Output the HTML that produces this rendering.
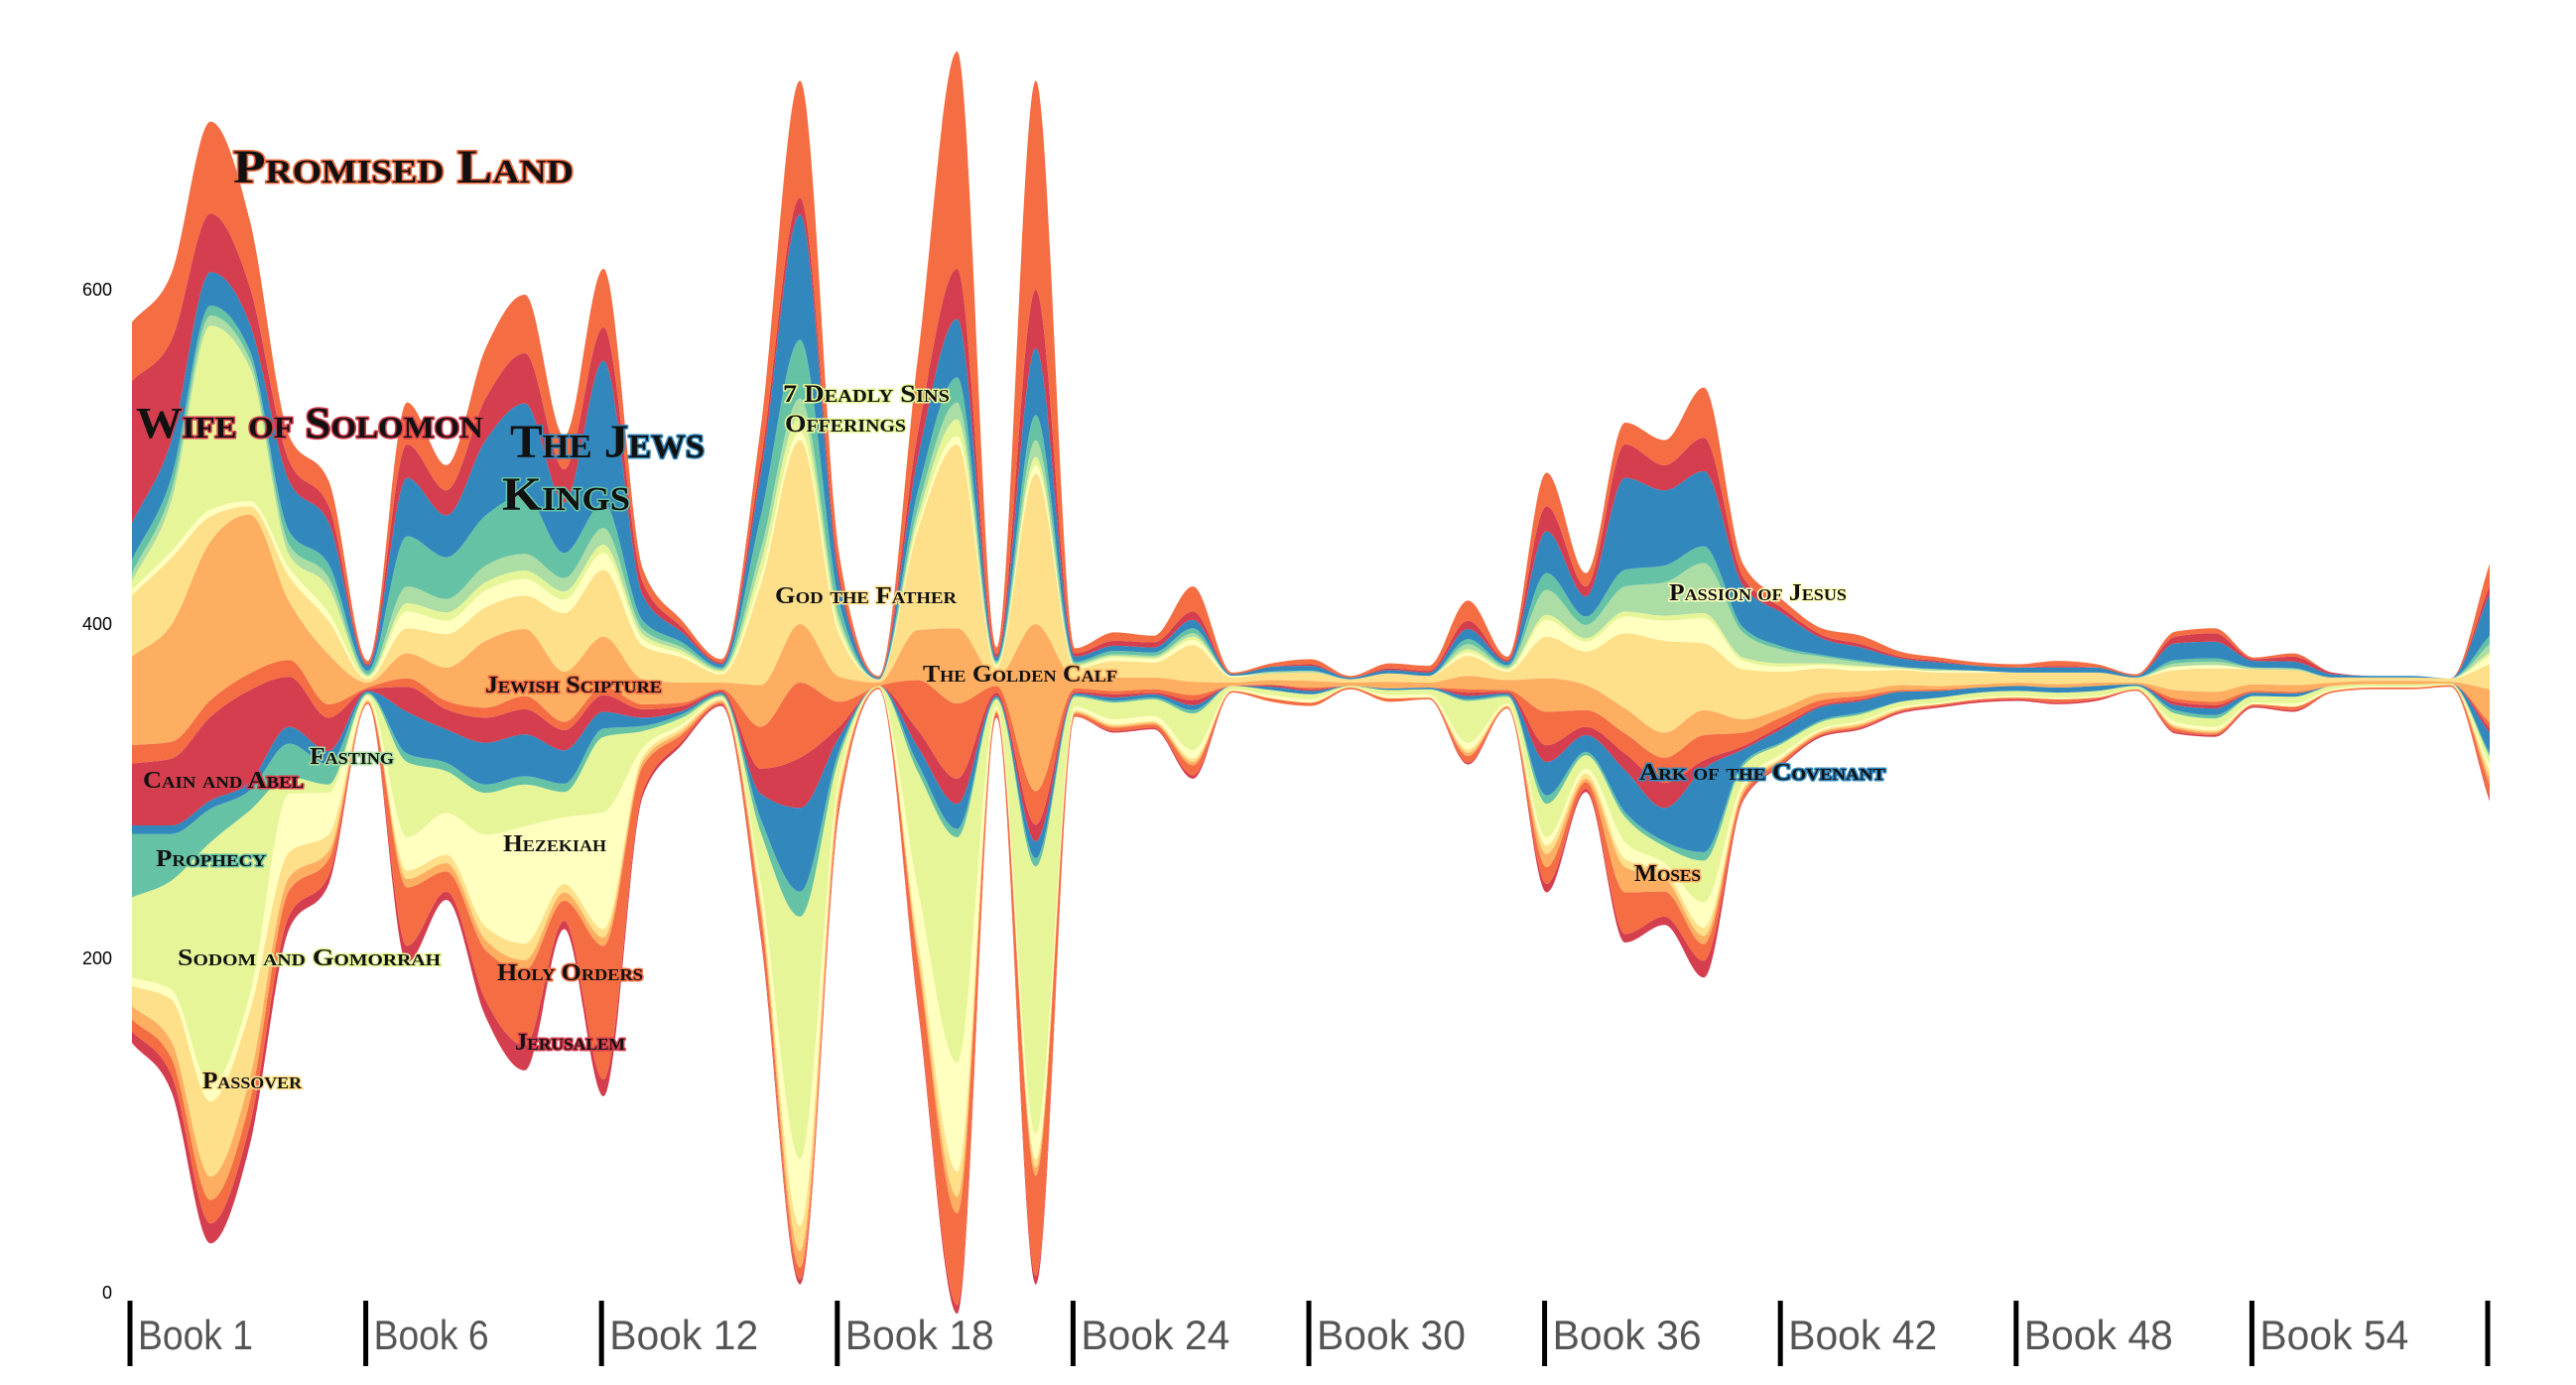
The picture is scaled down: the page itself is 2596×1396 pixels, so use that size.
<!DOCTYPE html>
<html><head><meta charset="utf-8"><style>
html,body{margin:0;padding:0;background:#fff;}
svg{display:block;}
.lbl{font-family:"Liberation Serif",serif;font-weight:bold;font-variant:small-caps;fill:#111;stroke-width:3px;paint-order:stroke;stroke-linejoin:round;}
.book{font-family:"Liberation Sans",sans-serif;font-size:42px;fill:#555;font-weight:300;}
.ylab{font-family:"Liberation Sans",sans-serif;font-size:18px;fill:#000;text-anchor:end;}
</style></head><body>
<svg id="chart" width="2596" height="1396" viewBox="0 0 2596 1396" xmlns="http://www.w3.org/2000/svg">
<g id="layers"></g>
<g id="axis"></g>
<g id="yaxis"></g>
<g id="labels"></g>
</svg>
<script>
const bookLabels = ["Book 1","Book 6","Book 12","Book 18","Book 24","Book 30","Book 36","Book 42","Book 48","Book 54",""];
const yTicks = [0,200,400,600];
const jerusalem = [7,10,12,12,8,5,0,10,5,10,15,5,10,3,2,1,3,3,2,0,3,5,1,5,0,1,1,2,0,0,0,0,0,0,1,0,5,2,5,5,10,1,1,1,1,1,1,1,1,1,1,0,1,1,1,1,0,0,0,0,2];
const holyOrders = [7,10,14,14,15,10,1,35,12,30,45,12,80,15,4,1,12,7,6,1,25,55,2,60,2,2,2,6,1,2,2,1,2,1,4,1,10,4,25,15,10,3,2,1,1,1,1,1,1,2,1,1,2,1,1,2,1,1,1,1,8];
const moses = [8,10,14,14,8,5,1,5,5,6,6,5,5,3,2,1,5,10,4,0,5,10,1,5,1,1,1,2,0,0,0,0,0,0,2,0,8,2,15,8,5,2,1,1,1,0,0,0,0,0,0,0,1,1,0,0,0,0,0,0,4];
const passover = [12,25,45,40,15,10,1,5,5,8,10,5,5,3,2,1,5,15,4,0,8,15,1,5,1,1,1,2,0,0,0,0,0,0,2,1,5,3,5,4,5,2,1,1,1,1,0,0,0,0,0,0,1,1,0,0,0,0,0,0,4];
const hezekiah = [5,6,10,10,35,25,2,20,25,55,70,40,70,5,2,1,8,40,4,0,30,65,2,15,2,3,3,5,1,2,2,0,2,2,4,1,5,3,10,5,15,3,2,1,1,1,1,1,1,1,1,0,2,2,1,2,1,1,1,0,4];
const sodom = [48,65,145,110,10,5,1,45,25,25,25,15,45,10,4,1,30,145,12,1,70,135,4,160,6,10,10,22,2,3,3,1,3,3,25,4,20,8,15,10,25,10,6,4,4,3,3,3,3,3,3,2,5,5,4,4,2,1,1,1,5];
const prophecy = [38,28,20,12,20,12,1,5,5,5,5,5,5,3,2,1,8,15,4,0,5,5,1,5,1,1,1,2,0,0,0,0,0,0,1,1,5,2,3,3,5,2,1,1,1,0,0,0,0,0,0,0,2,2,0,0,0,0,0,0,2];
const ark = [5,5,5,5,10,8,1,25,20,25,25,20,10,5,2,1,15,50,8,0,10,15,1,10,1,2,2,3,0,2,2,0,1,1,2,1,20,10,25,20,50,8,8,8,7,6,4,3,3,3,3,1,3,4,2,2,0,0,0,0,12];
const cainAbel = [37,40,50,55,30,20,1,15,12,15,15,12,10,5,3,1,15,30,6,0,10,15,2,10,1,2,1,3,0,1,1,0,0,0,2,1,10,5,10,15,5,2,2,1,1,0,0,0,0,0,0,0,2,2,0,0,0,0,0,0,3];
const fasting = [11,10,10,10,10,8,1,5,5,6,8,5,5,3,2,1,25,45,15,0,30,45,4,20,2,2,2,3,0,0,1,0,0,0,2,1,20,10,12,15,15,8,5,3,2,1,1,0,0,0,0,0,2,2,1,1,0,0,0,0,3];
const jewishScripture = [53,70,95,95,35,30,3,15,20,40,40,30,30,15,12,4,25,35,15,2,30,45,5,100,6,8,7,8,2,3,4,2,4,3,8,6,20,15,15,15,15,8,5,4,3,3,2,2,2,2,2,1,5,6,4,4,2,2,2,1,20];
const godFather = [37,40,15,5,15,20,2,15,20,20,20,35,40,20,15,5,60,110,25,2,60,110,6,90,6,10,9,22,3,4,5,2,5,4,12,5,25,20,45,55,40,30,22,15,12,9,8,7,6,7,6,3,12,14,9,9,3,2,2,2,15];
const passionJesus = [3,4,4,3,5,5,1,10,8,10,10,8,10,4,2,1,5,5,3,0,3,5,1,5,1,2,2,3,1,0,0,0,0,0,2,1,10,6,10,12,15,5,3,2,2,1,1,1,0,0,0,0,2,2,0,0,0,0,0,0,5];
const deadlySins = [5,30,110,80,8,15,1,5,5,5,5,5,5,3,2,1,8,10,4,0,5,10,1,5,1,1,1,2,0,0,0,0,0,0,2,1,3,2,3,3,3,2,2,1,1,0,0,0,0,0,0,0,0,0,0,0,0,0,0,0,2];
const offerings = [5,6,6,5,6,6,1,10,8,10,10,8,10,3,2,1,8,10,4,0,5,10,1,10,1,1,1,2,0,1,1,0,0,0,3,1,15,8,15,20,30,15,8,4,2,1,1,0,0,0,0,0,2,2,1,1,0,0,0,0,5];
const kings = [8,8,6,5,8,8,2,30,25,30,35,15,15,5,3,1,20,35,8,0,10,15,1,15,1,2,2,3,0,0,0,0,0,0,3,1,10,5,10,10,10,3,2,1,1,0,0,0,0,0,0,0,2,2,0,0,0,0,0,0,5];
const theJews = [22,22,20,16,30,25,3,35,25,45,55,30,85,15,6,2,25,75,12,1,20,35,2,40,3,3,3,5,1,3,3,1,2,2,6,2,25,12,55,45,45,25,20,10,8,5,4,3,3,3,3,1,10,10,4,4,2,1,1,0,25];
const wifeSolomon = [85,60,35,22,12,10,1,20,15,25,30,20,20,8,3,1,8,10,5,0,15,30,2,35,2,3,3,5,0,0,1,0,1,1,5,1,15,6,20,15,20,5,3,2,2,1,1,0,0,1,0,0,4,5,1,3,1,0,0,0,5];
const promisedLand = [35,40,55,40,15,15,2,25,15,30,35,20,35,8,4,2,20,70,12,1,45,130,4,125,3,5,4,15,1,2,3,1,3,3,12,2,20,8,13,15,30,8,5,4,5,3,2,2,2,3,2,1,3,3,1,2,0,0,0,0,13];

const series = [jerusalem,holyOrders,moses,passover,hezekiah,sodom,prophecy,ark,cainAbel,fasting,jewishScripture,godFather,passionJesus,deadlySins,offerings,kings,theJews,wifeSolomon,promisedLand];
const seriesNames = ["jerusalem","holy-orders","moses","passover","hezekiah","sodom-and-gomorrah","prophecy","ark-of-the-covenant","cain-and-abel","fasting","jewish-scripture","god-the-father","passion-of-jesus","seven-deadly-sins","offerings","kings","the-jews","wife-of-solomon","promised-land"];
const colors = ["#d53e4f","#f46d43","#fdae61","#fee08b","#ffffbf","#e6f598","#66c2a5","#3288bd","#d53e4f","#f46d43","#fdae61","#fee08b","#ffffbf","#e6f598","#abdda4","#66c2a5","#3288bd","#d53e4f","#f46d43"];

const NS="http://www.w3.org/2000/svg";
const N = promisedLand.length;
const CENTER = 365;
const x = i => 133 + i*39.6;
const y = v => 1303 - v*1.685;

const totals = [];
for(let i=0;i<N;i++){let t=0;for(const s of series)t+=s[i];totals.push(t);}
const bounds=[];
let cur = totals.map(t=>CENTER - t/2);
for(const s of series){
  const lo=cur.slice(); const hi=cur.map((c,i)=>c+s[i]);
  bounds.push([lo,hi]); cur=hi;
}
function slopes(ys){
  const h=39.6, n=ys.length, m=new Array(n).fill(0);
  const d=[];for(let i=0;i<n-1;i++)d.push((ys[i+1]-ys[i])/h);
  for(let i=1;i<n-1;i++){
    const s0=d[i-1],s1=d[i];
    if(s0*s1<=0){m[i]=0;continue;}
    const sg=s0>0?1:-1;
    m[i]=2*sg*Math.min(Math.abs(s0),Math.abs(s1),Math.abs(s0+s1)/4);
  }
  m[0]=d[0]; m[n-1]=d[n-2];
  return m;
}
function curve(vals, forward){
  const ys=vals.map(y), m=slopes(ys), h=39.6;
  let p="";
  if(forward){
    p+="M"+x(0)+","+ys[0];
    for(let i=0;i<N-1;i++){
      p+="C"+(x(i)+h/3)+","+(ys[i]+m[i]*h/3)+" "+(x(i+1)-h/3)+","+(ys[i+1]-m[i+1]*h/3)+" "+x(i+1)+","+ys[i+1];
    }
  } else {
    p+="L"+x(N-1)+","+ys[N-1];
    for(let i=N-1;i>0;i--){
      p+="C"+(x(i)-h/3)+","+(ys[i]-m[i]*h/3)+" "+(x(i-1)+h/3)+","+(ys[i-1]+m[i-1]*h/3)+" "+x(i-1)+","+ys[i-1];
    }
    p+="Z";
  }
  return p;
}
const gL=document.getElementById("layers");
bounds.forEach((b,k)=>{
  const path=document.createElementNS(NS,"path");
  path.setAttribute("d",curve(b[1],true)+curve(b[0],false));
  path.setAttribute("fill",colors[k]);
  
  
  gL.appendChild(path);
});

const gA=document.getElementById("axis");
bookLabels.forEach((lab,k)=>{
  const tx=x(k*6)-2;
  const r=document.createElementNS(NS,"rect");
  r.setAttribute("x",tx-2.5);r.setAttribute("y",1311);r.setAttribute("width",5);r.setAttribute("height",66);r.setAttribute("fill","#000");
  
  
  gA.appendChild(r);
  if(lab){
    const t=document.createElementNS(NS,"text");
    t.setAttribute("x",tx+8);t.setAttribute("y",1360);t.setAttribute("class","book");
    t.setAttribute("textLength",lab.length>6?150:116);t.setAttribute("lengthAdjust","spacingAndGlyphs");
    t.textContent=lab;
    
    
    gA.appendChild(t);
  }
});
const gY=document.getElementById("yaxis");
yTicks.forEach(v=>{
  const t=document.createElementNS(NS,"text");
  t.setAttribute("x",113);t.setAttribute("y",y(v)+6);t.setAttribute("class","ylab");
  t.textContent=String(v);
  
  
  gY.appendChild(t);
});
const labelText=["Promised Land","Wife of Solomon","The Jews","Kings","7 Deadly Sins","Offerings","God the Father","Jewish Scipture","The Golden Calf","Fasting","Cain and Abel","Prophecy","Hezekiah","Sodom and Gomorrah","Holy Orders","Jerusalem","Passover","Passion of Jesus","Ark of the Covenant","Moses"];
const labelPos=[[235,184,343,48,"#f46d43"],[137,441,350,44,"#d53e4f"],[514,461,196,48,"#3288bd"],[506,514,129,48,"#66c2a5"],[789,405,168,25,"#e6f598"],[791,435,122,25,"#e6f598"],[781,608,183,24,"#fee08b"],[489,698,178,24,"#f46d43"],[930,687,196,24,"#fdae61"],[312,770,85,24,"#abdda4"],[144,794,162,24,"#d53e4f"],[157,873,111,24,"#66c2a5"],[507,858,104,24,"#ffffbf"],[179,973,265,24,"#e6f598"],[501,988,147,24,"#f46d43"],[519,1058,111,24,"#d53e4f"],[204,1097,100,24,"#fee08b"],[1682,605,179,24,"#ffffbf"],[1652,786,248,24,"#3288bd"],[1647,888,67,24,"#fdae61"]];
const gT=document.getElementById("labels");
labelText.forEach((s,k)=>{
  const p=labelPos[k];
  const t=document.createElementNS(NS,"text");
  t.setAttribute("x",p[0]);t.setAttribute("y",p[1]);t.setAttribute("class","lbl");
  t.setAttribute("font-size",p[3]);t.setAttribute("stroke",p[4]);
  t.setAttribute("textLength",p[2]);t.setAttribute("lengthAdjust","spacingAndGlyphs");
  t.textContent=s;
  
  
  gT.appendChild(t);
});
</script>
</body></html>
